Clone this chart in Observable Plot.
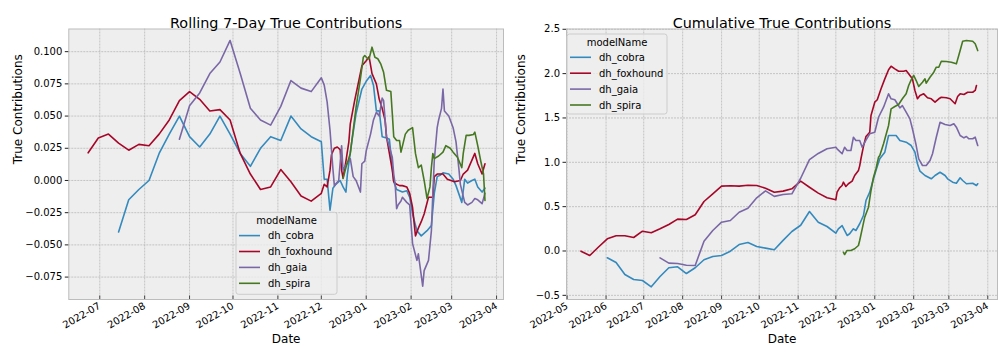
<!DOCTYPE html>
<html><head><meta charset="utf-8">
<script src="https://cdn.jsdelivr.net/npm/d3@7"></script>
<script src="https://cdn.jsdelivr.net/npm/@observablehq/plot@0.6"></script>
<style>
body{margin:0;background:#fff;font-family:"DejaVu Sans",sans-serif;}
#wrap{display:flex;width:1008px;height:360px;}
svg{display:block}
</style></head><body><div id="wrap"></div>
<script>
const models = ["dh_cobra","dh_foxhound","dh_gaia","dh_spira"];
const colors = ["#348ABD","#A60628","#7A68A6","#467821"];
const titles = ["Rolling 7-Day True Contributions","Cumulative True Contributions"];
const xLabel = "Date";
const yLabel = "True Contributions";
const legendTitle = "modelName";
const rollingTicks = [0.100,0.075,0.050,0.025,0.000,-0.025,-0.050,-0.075];
const cumulativeTicks = [2.5,2.0,1.5,1.0,0.5,0.0,-0.5];
const rollingMonths = ["2022-07","2022-08","2022-09","2022-10","2022-11","2022-12","2023-01","2023-02","2023-03","2023-04"];
const cumulativeMonths = ["2022-05","2022-06","2022-07","2022-08","2022-09","2022-10","2022-11","2022-12","2023-01","2023-02","2023-03","2023-04"];

const rollingCobra = [["2022-07-14",-0.040],["2022-07-21",-0.015],["2022-07-28",-0.007],["2022-08-04",0.000],["2022-08-11",0.021],["2022-08-18",0.036],["2022-08-25",0.050],["2022-09-01",0.034],["2022-09-08",0.026],["2022-09-15",0.036],["2022-09-22",0.050],["2022-09-29",0.036],["2022-10-06",0.021],["2022-10-13",0.011],["2022-10-20",0.025],["2022-10-27",0.034],["2022-11-03",0.031],["2022-11-10",0.050],["2022-11-17",0.040],["2022-11-24",0.034],["2022-12-01",0.030],["2022-12-03",0.001],["2022-12-05",0.001],["2022-12-07",-0.023],["2022-12-09",-0.006],["2022-12-11",-0.003],["2022-12-14",0.000],["2022-12-16",-0.005],["2022-12-18",-0.009],["2022-12-19",0.005],["2022-12-22",0.030],["2022-12-25",0.052],["2022-12-29",0.071],["2023-01-01",0.077],["2023-01-04",0.0815],["2023-01-06",0.074],["2023-01-08",0.054],["2023-01-10",0.054],["2023-01-12",0.034],["2023-01-15",0.033],["2023-01-17",0.032],["2023-01-19",0.010],["2023-01-20",-0.001],["2023-01-22",-0.007],["2023-01-24",-0.008],["2023-01-26",-0.009],["2023-01-29",-0.008],["2023-01-31",-0.013],["2023-02-02",-0.026],["2023-02-05",-0.039],["2023-02-08",-0.043],["2023-02-12",-0.039],["2023-02-15",-0.035],["2023-02-17",-0.010],["2023-02-19",0.003],["2023-02-21",0.004],["2023-02-23",0.006],["2023-02-27",0.005],["2023-03-02",0.001],["2023-03-04",-0.004],["2023-03-08",-0.017],["2023-03-10",0.001],["2023-03-12",-0.002],["2023-03-15",0.000],["2023-03-17",0.001],["2023-03-19",-0.005],["2023-03-22",-0.009],["2023-03-24",-0.006]];
const rollingFoxhound = [["2022-06-23",0.0215],["2022-06-30",0.033],["2022-07-07",0.036],["2022-07-14",0.029],["2022-07-21",0.0235],["2022-07-28",0.028],["2022-08-04",0.027],["2022-08-11",0.036],["2022-08-18",0.047],["2022-08-25",0.062],["2022-09-01",0.069],["2022-09-08",0.063],["2022-09-15",0.054],["2022-09-22",0.055],["2022-09-29",0.047],["2022-10-06",0.021],["2022-10-13",0.005],["2022-10-20",-0.007],["2022-10-27",-0.005],["2022-11-03",0.0085],["2022-11-10",-0.001],["2022-11-17",-0.012],["2022-11-24",-0.016],["2022-12-01",-0.010],["2022-12-03",-0.003],["2022-12-05",-0.005],["2022-12-07",0.008],["2022-12-08",0.020],["2022-12-10",0.025],["2022-12-12",0.026],["2022-12-14",0.024],["2022-12-15",0.008],["2022-12-16",0.002],["2022-12-18",0.015],["2022-12-20",0.030],["2022-12-21",0.044],["2022-12-24",0.062],["2022-12-27",0.078],["2022-12-29",0.089],["2023-01-01",0.093],["2023-01-03",0.096],["2023-01-05",0.083],["2023-01-08",0.075],["2023-01-10",0.063],["2023-01-12",0.056],["2023-01-14",0.047],["2023-01-15",0.034],["2023-01-17",0.021],["2023-01-19",0.008],["2023-01-20",-0.001],["2023-01-22",-0.003],["2023-01-24",-0.004],["2023-01-26",-0.004],["2023-01-29",-0.005],["2023-01-31",-0.010],["2023-02-02",-0.021],["2023-02-04",-0.043],["2023-02-06",-0.037],["2023-02-08",-0.032],["2023-02-10",-0.026],["2023-02-13",-0.013],["2023-02-16",-0.013],["2023-02-17",0.003],["2023-02-19",0.005],["2023-02-23",0.005],["2023-02-26",0.001],["2023-03-03",-0.001],["2023-03-07",0.000],["2023-03-09",0.005],["2023-03-12",0.008],["2023-03-17",0.021],["2023-03-19",0.013],["2023-03-22",0.005],["2023-03-24",0.013]];
const rollingGaia = [["2022-08-25",0.032],["2022-09-01",0.058],["2022-09-08",0.068],["2022-09-15",0.083],["2022-09-22",0.092],["2022-09-29",0.1087],["2022-10-06",0.083],["2022-10-13",0.056],["2022-10-20",0.047],["2022-10-27",0.043],["2022-11-03",0.0575],["2022-11-10",0.0776],["2022-11-17",0.0717],["2022-11-24",0.069],["2022-12-01",0.0797],["2022-12-03",0.074],["2022-12-05",0.061],["2022-12-07",0.039],["2022-12-09",0.009],["2022-12-10",-0.004],["2022-12-13",0.000],["2022-12-15",0.027],["2022-12-16",0.008],["2022-12-18",0.012],["2022-12-21",0.017],["2022-12-23",0.003],["2022-12-25",0.000],["2022-12-28",-0.009],["2022-12-29",0.013],["2022-12-31",0.015],["2023-01-01",0.023],["2023-01-04",0.036],["2023-01-06",0.047],["2023-01-08",0.053],["2023-01-10",0.050],["2023-01-12",0.064],["2023-01-13",0.062],["2023-01-14",0.048],["2023-01-15",0.034],["2023-01-17",0.026],["2023-01-19",0.018],["2023-01-20",0.005],["2023-01-21",-0.003],["2023-01-22",-0.022],["2023-01-23",-0.019],["2023-01-25",-0.016],["2023-01-26",-0.013],["2023-01-29",-0.017],["2023-01-31",-0.019],["2023-02-02",-0.049],["2023-02-05",-0.062],["2023-02-06",-0.057],["2023-02-09",-0.082],["2023-02-10",-0.070],["2023-02-13",-0.062],["2023-02-15",-0.039],["2023-02-16",-0.010],["2023-02-17",0.0155],["2023-02-19",0.041],["2023-02-20",0.047],["2023-02-22",0.056],["2023-02-23",0.071],["2023-02-24",0.054],["2023-02-27",0.050],["2023-03-02",0.041],["2023-03-04",0.030],["2023-03-06",0.009],["2023-03-07",-0.003],["2023-03-10",-0.017],["2023-03-12",-0.019],["2023-03-15",-0.017],["2023-03-17",-0.014],["2023-03-19",-0.015],["2023-03-22",-0.018],["2023-03-24",-0.010]];
const rollingSpira = [["2022-12-16",0.0015],["2022-12-18",0.010],["2022-12-21",0.021],["2022-12-23",0.039],["2022-12-25",0.057],["2022-12-28",0.079],["2022-12-30",0.0957],["2022-12-31",0.097],["2023-01-02",0.0945],["2023-01-03",0.0945],["2023-01-05",0.1035],["2023-01-07",0.0957],["2023-01-09",0.0945],["2023-01-11",0.0906],["2023-01-13",0.084],["2023-01-15",0.070],["2023-01-18",0.069],["2023-01-19",0.052],["2023-01-20",0.034],["2023-01-22",0.031],["2023-01-24",0.031],["2023-01-25",0.022],["2023-01-28",0.036],["2023-01-30",0.039],["2023-02-02",0.041],["2023-02-04",0.021],["2023-02-06",0.010],["2023-02-08",0.012],["2023-02-10",0.000],["2023-02-12",-0.014],["2023-02-14",-0.005],["2023-02-15",0.010],["2023-02-16",0.021],["2023-02-17",0.017],["2023-02-20",0.019],["2023-02-23",0.022],["2023-02-25",0.027],["2023-02-28",0.025],["2023-03-02",0.022],["2023-03-05",0.018],["2023-03-08",0.010],["2023-03-09",0.021],["2023-03-11",0.035],["2023-03-13",0.035],["2023-03-16",0.0357],["2023-03-17",0.0375],["2023-03-19",0.027],["2023-03-21",0.0155],["2023-03-23",0.005],["2023-03-24",-0.0155]];

const cumulativeCobra = [["2022-06-02",-0.077],["2022-06-09",-0.130],["2022-06-16",-0.265],["2022-06-23",-0.321],["2022-06-30",-0.333],["2022-07-07",-0.404],["2022-07-14",-0.288],["2022-07-21",-0.189],["2022-07-28",-0.178],["2022-08-04",-0.254],["2022-08-11",-0.189],["2022-08-18",-0.099],["2022-08-25",-0.062],["2022-09-01",-0.051],["2022-09-08",-0.002],["2022-09-15",0.073],["2022-09-22",0.096],["2022-09-29",0.051],["2022-10-06",0.032],["2022-10-13",0.014],["2022-10-20",0.12],["2022-10-27",0.22],["2022-11-03",0.29],["2022-11-10",0.445],["2022-11-17",0.325],["2022-11-24",0.276],["2022-12-01",0.201],["2022-12-03",0.250],["2022-12-06",0.287],["2022-12-10",0.175],["2022-12-12",0.194],["2022-12-15",0.250],["2022-12-17",0.231],["2022-12-20",0.307],["2022-12-23",0.400],["2022-12-25",0.569],["2022-12-28",0.663],["2022-12-31",0.814],["2023-01-02",0.91],["2023-01-05",1.04],["2023-01-09",1.114],["2023-01-12",1.302],["2023-01-15",1.302],["2023-01-18",1.302],["2023-01-21",1.246],["2023-01-26",1.227],["2023-01-30",1.189],["2023-02-02",1.114],["2023-02-04",0.983],["2023-02-06",0.90],["2023-02-10",0.851],["2023-02-15",0.814],["2023-02-18",0.851],["2023-02-22",0.888],["2023-02-26",0.851],["2023-02-28",0.814],["2023-03-04",0.776],["2023-03-07",0.764],["2023-03-10",0.825],["2023-03-12",0.795],["2023-03-15",0.758],["2023-03-20",0.764],["2023-03-23",0.738],["2023-03-24",0.758]];
const cumulativeFoxhound = [["2022-05-12",-0.002],["2022-05-19",-0.051],["2022-05-26",0.045],["2022-06-02",0.137],["2022-06-09",0.171],["2022-06-16",0.171],["2022-06-23",0.152],["2022-06-30",0.223],["2022-07-07",0.205],["2022-07-14",0.250],["2022-07-21",0.299],["2022-07-28",0.359],["2022-08-04",0.355],["2022-08-11",0.408],["2022-08-18",0.558],["2022-08-25",0.645],["2022-09-01",0.731],["2022-09-08",0.735],["2022-09-15",0.731],["2022-09-22",0.742],["2022-09-29",0.738],["2022-10-06",0.708],["2022-10-13",0.663],["2022-10-20",0.675],["2022-10-27",0.701],["2022-11-03",0.787],["2022-11-10",0.719],["2022-11-17",0.652],["2022-11-24",0.600],["2022-12-01",0.577],["2022-12-02",0.663],["2022-12-04",0.712],["2022-12-06",0.738],["2022-12-07",0.776],["2022-12-09",0.727],["2022-12-11",0.758],["2022-12-14",0.787],["2022-12-16",0.851],["2022-12-19",0.908],["2022-12-20",0.96],["2022-12-21",1.04],["2022-12-23",1.18],["2022-12-25",1.291],["2022-12-28",1.339],["2022-12-29",1.528],["2023-01-01",1.678],["2023-01-03",1.705],["2023-01-06",1.829],["2023-01-09",1.941],["2023-01-12",2.043],["2023-01-14",2.083],["2023-01-17",2.054],["2023-01-20",2.027],["2023-01-24",2.027],["2023-01-26",2.035],["2023-01-29",1.979],["2023-01-31",1.941],["2023-02-02",1.810],["2023-02-04",1.716],["2023-02-06",1.753],["2023-02-09",1.772],["2023-02-12",1.727],["2023-02-15",1.716],["2023-02-18",1.678],["2023-02-21",1.716],["2023-02-23",1.734],["2023-02-27",1.727],["2023-03-02",1.716],["2023-03-06",1.660],["2023-03-08",1.742],["2023-03-10",1.772],["2023-03-13",1.764],["2023-03-16",1.790],["2023-03-20",1.790],["2023-03-22",1.810],["2023-03-23",1.866]];
const cumulativeGaia = [["2022-07-14",-0.077],["2022-07-21",-0.137],["2022-07-28",-0.141],["2022-08-04",-0.160],["2022-08-11",-0.163],["2022-08-18",0.110],["2022-08-25",0.231],["2022-09-01",0.325],["2022-09-08",0.344],["2022-09-15",0.437],["2022-09-22",0.483],["2022-09-29",0.600],["2022-10-06",0.678],["2022-10-13",0.616],["2022-10-20",0.637],["2022-10-27",0.645],["2022-11-03",0.82],["2022-11-10",1.03],["2022-11-17",1.10],["2022-11-24",1.152],["2022-12-01",1.170],["2022-12-02",1.152],["2022-12-06",1.096],["2022-12-08",1.170],["2022-12-10",1.133],["2022-12-13",1.133],["2022-12-15",1.283],["2022-12-17",1.246],["2022-12-20",1.246],["2022-12-22",1.170],["2022-12-25",1.25],["2022-12-28",1.321],["2023-01-01",1.339],["2023-01-04",1.508],["2023-01-08",1.621],["2023-01-10",1.697],["2023-01-12",1.772],["2023-01-14",1.716],["2023-01-17",1.705],["2023-01-19",1.660],["2023-01-21",1.614],["2023-01-23",1.640],["2023-01-26",1.565],["2023-01-29",1.490],["2023-01-31",1.378],["2023-02-03",1.189],["2023-02-05",1.039],["2023-02-08",0.964],["2023-02-11",0.964],["2023-02-14",1.020],["2023-02-16",1.096],["2023-02-19",1.283],["2023-02-22",1.452],["2023-02-26",1.426],["2023-03-02",1.415],["2023-03-05",1.434],["2023-03-07",1.396],["2023-03-10",1.302],["2023-03-13",1.276],["2023-03-15",1.291],["2023-03-17",1.265],["2023-03-20",1.265],["2023-03-22",1.283],["2023-03-24",1.189]];
const cumulativeSpira = [["2022-12-07",-0.014],["2022-12-08",-0.040],["2022-12-10",0.006],["2022-12-13",0.006],["2022-12-16",0.025],["2022-12-19",0.062],["2022-12-20",0.118],["2022-12-22",0.250],["2022-12-24",0.381],["2022-12-27",0.494],["2022-12-29",0.682],["2022-12-31",0.832],["2023-01-02",0.927],["2023-01-04",1.057],["2023-01-05",1.077],["2023-01-08",1.209],["2023-01-12",1.415],["2023-01-14",1.603],["2023-01-17",1.629],["2023-01-20",1.652],["2023-01-23",1.716],["2023-01-26",1.772],["2023-01-28",1.866],["2023-01-30",1.930],["2023-02-01",1.979],["2023-02-03",1.922],["2023-02-05",1.855],["2023-02-08",1.903],["2023-02-10",1.941],["2023-02-11",1.892],["2023-02-14",1.959],["2023-02-17",2.016],["2023-02-19",2.072],["2023-02-21",2.072],["2023-02-23",2.140],["2023-02-27",2.136],["2023-03-03",2.128],["2023-03-07",2.110],["2023-03-10",2.260],["2023-03-12",2.365],["2023-03-15",2.373],["2023-03-20",2.365],["2023-03-22",2.336],["2023-03-24",2.260]];

const FONT = "DejaVu Sans";

function toRows(seriesList) {
  const rows = [];
  seriesList.forEach((s, i) => s.forEach(([d, v]) => rows.push({date: new Date(d + "T00:00:00Z"), value: v, model: models[i]})));
  return rows;
}

function makeChart(cfg) {
  const rows = toRows(cfg.series);
  const xTicks = cfg.months.map(m => new Date(m + "-01T00:00:00Z"));
  const plotH = 360 - 28.5 - 61;
  const svg = Plot.plot({
    width: 504, height: 360,
    marginTop: 28.5, marginBottom: 61, marginLeft: cfg.marginLeft, marginRight: cfg.marginRight,
    style: {fontFamily: FONT, fontSize: "10px", color: "#000", background: "white", overflow: "visible"},
    x: {type: "utc", domain: cfg.xDomain.map(d => new Date(d))},
    y: {domain: cfg.yDomain},
    color: {domain: models, range: colors},
    marks: [
      Plot.frame({fill: "#eeeeee", stroke: null}),
      Plot.gridX(xTicks, {stroke: "#b2b2b2", strokeOpacity: 1, strokeWidth: 0.7, strokeDasharray: "2,1"}),
      Plot.gridY(cfg.yTicks, {stroke: "#b2b2b2", strokeOpacity: 1, strokeWidth: 0.7, strokeDasharray: "2,1"}),
      Plot.line(rows, {x: "date", y: "value", z: "model", stroke: "model", strokeWidth: 1.6}),
      Plot.frame({stroke: "#bcbcbc", strokeWidth: 1}),
      Plot.ruleX(xTicks, {insetTop: plotH - 3.5, stroke: "#222", strokeWidth: 0.8}),
      Plot.axisY(cfg.yTicks, {tickSize: 3.5, tickPadding: 3, tickFormat: d3.format(cfg.yFormat), label: null, stroke: "#222", fill: "#000"}),
      Plot.axisX(xTicks, {tickSize: 0, tickPadding: 5.5, tickRotate: -30, tickFormat: d3.utcFormat("%Y-%m"), label: null, fill: "#000"}),
      Plot.text([cfg.title], {frameAnchor: "top", dy: -11.5, fontSize: 14.4, fill: "#000"}),
      Plot.text([xLabel], {frameAnchor: "bottom", dy: 43, fontSize: 12, fill: "#000"}),
      Plot.text([yLabel], {frameAnchor: "left", dx: -cfg.yLabelOffset, rotate: -90, fontSize: 12, fill: "#000"})
    ]
  });
  // legend
  const L = cfg.legend;
  const g = d3.select(svg).append("g").attr("font-family", FONT).attr("font-size", 10).attr("text-anchor", "start");
  g.append("rect").attr("x", L.x).attr("y", L.y).attr("width", L.w).attr("height", L.h).attr("rx", 2.5)
    .attr("fill", "#eeeeee").attr("fill-opacity", 0.8).attr("stroke", "#cccccc").attr("stroke-width", 1);
  g.append("text").attr("x", L.x + L.w / 2).attr("y", L.y + 8).attr("dy", "0.35em").attr("text-anchor", "middle").attr("fill", "#000").text(legendTitle);
  models.forEach((m, i) => {
    const yy = L.y + 23.3 + i * 15.9;
    g.append("line").attr("x1", L.x + 3).attr("x2", L.x + 24).attr("y1", yy).attr("y2", yy).attr("stroke", colors[i]).attr("stroke-width", 1.6);
    g.append("text").attr("x", L.x + 32).attr("y", yy).attr("dy", "0.35em").attr("text-anchor", "start").attr("fill", "#000").text(m);
  });
  return svg;
}

const wrap = document.getElementById("wrap");
wrap.appendChild(makeChart({
  title: titles[0],
  series: [rollingCobra, rollingFoxhound, rollingGaia, rollingSpira],
  months: rollingMonths,
  xDomain: ["2022-06-09T15:00:00Z", "2023-04-05T19:00:00Z"],
  yDomain: [-0.0924, 0.1176],
  yTicks: rollingTicks, yFormat: ".3f",
  marginLeft: 68.3, marginRight: 1,
  yLabelOffset: 51,
  legend: {x: 236, y: 212.3, w: 101, h: 82}
}));
wrap.appendChild(makeChart({
  title: titles[1],
  series: [cumulativeCobra, cumulativeFoxhound, cumulativeGaia, cumulativeSpira],
  months: cumulativeMonths,
  xDomain: ["2022-04-30T12:00:00Z", "2023-04-08T18:00:00Z"],
  yDomain: [-0.547, 2.503],
  yTicks: cumulativeTicks, yFormat: ".1f",
  marginLeft: 62, marginRight: 11,
  yLabelOffset: 45,
  legend: {x: 63, y: 34, w: 100, h: 80}
}));
</script></body></html>
